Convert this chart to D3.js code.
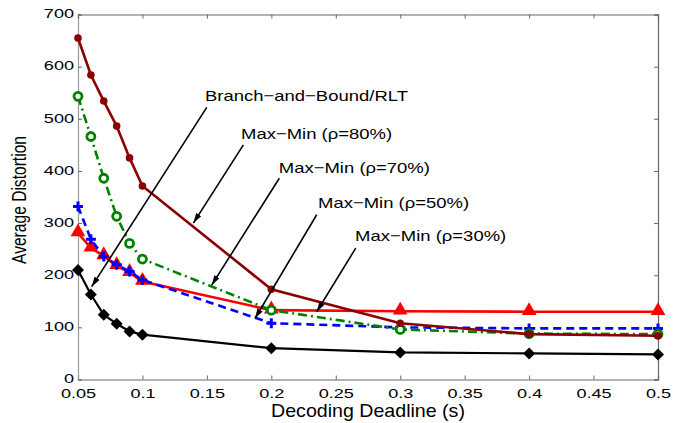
<!DOCTYPE html>
<html>
<head>
<meta charset="utf-8">
<script src="https://cdn.jsdelivr.net/npm/d3@7"></script>
<style>
  body { margin: 0; background: #fff; }
  text { font-family: "Liberation Sans", Arial, sans-serif; }
</style>
</head>
<body>
<div id="chart"></div>
<script>
// deadlines (s)
var deadlines = [0.05, 0.06, 0.07, 0.08, 0.09, 0.1, 0.2, 0.3, 0.4, 0.5];

// average distortion per scheme
var maxMin80 = [655, 584, 534, 486, 425, 371, 173, 108, 87, 84];
var maxMin70 = [543, 466, 386, 313, 261, 231, 133, 96, 88, 87];
var maxMin50 = [332, 269, 236, 220, 207, 191, 108, 100, 98, 98];
var maxMin30 = [281, 252, 237, 218, 205, 188, 133, 131, 130, 130];
var bnbRlt = [210, 163, 124, 107, 92, 86, 60, 52, 50, 48];

var xTicks = [0.05, 0.1, 0.15, 0.2, 0.25, 0.3, 0.35, 0.4, 0.45, 0.5];
var yTicks = [0, 100, 200, 300, 400, 500, 600, 700];

// annotation text anchor and arrow (start -> tip), in data units
var notes = [
  {label: "Branch\u2212and\u2212Bound/RLT", tx: 0.1485, ty: 535, x1: 0.1499, y1: 522, x2: 0.0606, y2: 178},
  {label: "Max\u2212Min (\u03c1=80%)", tx: 0.1765, ty: 462, x1: 0.1783, y1: 450, x2: 0.1395, y2: 300},
  {label: "Max\u2212Min (\u03c1=70%)", tx: 0.2058, ty: 396, x1: 0.2062, y1: 386, x2: 0.1537, y2: 181},
  {label: "Max\u2212Min (\u03c1=50%)", tx: 0.2362, ty: 329, x1: 0.2352, y1: 316, x2: 0.1873, y2: 117},
  {label: "Max\u2212Min (\u03c1=30%)", tx: 0.2650, ty: 265, x1: 0.2655, y1: 252, x2: 0.2352, y2: 130}
];

var width = 679, height = 423;
var margin = {top: 14.5, right: 21, bottom: 43.5, left: 78};
var w = width - margin.left - margin.right;
var h = height - margin.top - margin.bottom;

var svg = d3.select("#chart").append("svg")
    .attr("width", width)
    .attr("height", height);

var defs = svg.append("defs");
defs.append("marker")
    .attr("id", "arrow")
    .attr("viewBox", "0 0 10 6")
    .attr("refX", 10).attr("refY", 3)
    .attr("markerWidth", 10).attr("markerHeight", 6)
    .attr("markerUnits", "userSpaceOnUse")
    .attr("orient", "auto")
    .append("path")
    .attr("d", "M0,0 L10,3 L0,6 Z")
    .attr("fill", "#000");

var g = svg.append("g")
    .attr("transform", "translate(" + margin.left + "," + margin.top + ")");

var x = d3.scaleLinear().domain([0.05, 0.5]).range([0, w]);
var y = d3.scaleLinear().domain([0, 700]).range([h, 0]);

// axes box, ticks pointing inward
var xAxis = d3.axisBottom(x).tickValues(xTicks).tickSize(-4)
    .tickFormat(d => d3.format("")(+d.toFixed(2)));
var yAxis = d3.axisLeft(y).tickValues(yTicks).tickSize(-4);

var gx = g.append("g").attr("transform", "translate(0," + h + ")").call(xAxis);
var gy = g.append("g").call(yAxis);
g.append("g").call(d3.axisTop(x).tickValues(xTicks).tickSize(-4).tickFormat(""));
g.append("g").attr("transform", "translate(" + w + ",0)")
    .call(d3.axisRight(y).tickValues(yTicks).tickSize(-4).tickFormat(""));

g.selectAll(".domain").attr("stroke", "#666").attr("stroke-width", 1.2);
g.selectAll(".tick line").attr("stroke", "#666");
gy.select(".domain").attr("stroke", "#999");

[gx, gy].forEach(function(ax) {
  ax.selectAll(".tick text")
      .attr("fill", "#000")
      .style("font-size", "13.3px")
      .style("font-family", "'Liberation Sans', Arial, sans-serif");
});
// stretch tick labels horizontally like the source
gx.selectAll(".tick text")
    .attr("transform", "translate(0,9) scale(1.36,1)")
    .attr("x", 0).attr("y", 0).attr("dy", "0.71em");
gy.selectAll(".tick text").attr("text-anchor", "end")
    .attr("transform", "translate(-4,-1) scale(1.36,1)").attr("x", 0);

// axis titles
svg.append("text")
    .attr("transform", "translate(" + (margin.left + w / 2) + "," + 417 + ") scale(1.06,1)")
    .attr("text-anchor", "middle")
    .style("font-size", "18.5px")
    .text("Decoding Deadline (s)");

svg.append("text")
    .attr("transform", "translate(26," + 200 + ") rotate(-90) scale(1,1.3)")
    .attr("text-anchor", "middle")
    .style("font-size", "15.6px")
    .text("Average Distortion");

var line = d3.line()
    .x((d, i) => x(deadlines[i]))
    .y(d => y(d));

function pts(vals) {
  return vals.map((v, i) => ({x: deadlines[i], y: v}));
}

// Max-Min rho=30%: red, triangles
g.append("path").attr("d", line(maxMin30))
    .attr("fill", "none").attr("stroke", "#ff0000").attr("stroke-width", 2.6);
g.selectAll(".tri").data(pts(maxMin30)).enter().append("path")
    .attr("d", d3.symbol().type(d3.symbolTriangle).size(95))
    .attr("transform", d => "translate(" + x(d.x) + "," + (y(d.y) - 1) + ")")
    .attr("fill", "#ff0000");

// Max-Min rho=50%: blue dashed, plus
g.append("path").attr("d", line(maxMin50))
    .attr("fill", "none").attr("stroke", "#0000ff").attr("stroke-width", 2.6)
    .attr("stroke-dasharray", "8,5");
g.selectAll(".plus").data(pts(maxMin50)).enter().append("path")
    .attr("d", "M-5,0H5M0,-5V5")
    .attr("transform", d => "translate(" + x(d.x) + "," + y(d.y) + ")")
    .attr("stroke", "#0000ff").attr("stroke-width", 3);

// Max-Min rho=70%: green dash-dot, open circles
g.append("path").attr("d", line(maxMin70))
    .attr("fill", "none").attr("stroke", "#008000").attr("stroke-width", 2.6)
    .attr("stroke-dasharray", "9,4,2,4");
g.selectAll(".circ").data(pts(maxMin70)).enter().append("circle")
    .attr("cx", d => x(d.x)).attr("cy", d => y(d.y)).attr("r", 4)
    .attr("fill", "#fff").attr("stroke", "#008000").attr("stroke-width", 2.8);

// Max-Min rho=80%: dark red, filled dots
g.append("path").attr("d", line(maxMin80))
    .attr("fill", "none").attr("stroke", "#8b0000").attr("stroke-width", 2.6);
g.selectAll(".dot").data(pts(maxMin80)).enter().append("circle")
    .attr("cx", d => x(d.x)).attr("cy", d => y(d.y)).attr("r", 3.8)
    .attr("fill", "#8b0000");

// Branch-and-Bound/RLT: black, diamonds
g.append("path").attr("d", line(bnbRlt))
    .attr("fill", "none").attr("stroke", "#000").attr("stroke-width", 2.2);
g.selectAll(".dia").data(pts(bnbRlt)).enter().append("path")
    .attr("d", "M0,-6L6,0L0,6L-6,0Z")
    .attr("transform", d => "translate(" + x(d.x) + "," + y(d.y) + ")")
    .attr("fill", "#000");

// annotations
notes.forEach(function(n) {
  g.append("line")
      .attr("x1", x(n.x1)).attr("y1", y(n.y1))
      .attr("x2", x(n.x2)).attr("y2", y(n.y2))
      .attr("stroke", "#000").attr("stroke-width", 1.6)
      .attr("marker-end", "url(#arrow)");
  g.append("text")
      .attr("transform", "translate(" + x(n.tx) + "," + y(n.ty) + ") scale(1.2,1)")
      .style("font-size", "15.4px")
      .text(n.label);
});
</script>
</body>
</html>
